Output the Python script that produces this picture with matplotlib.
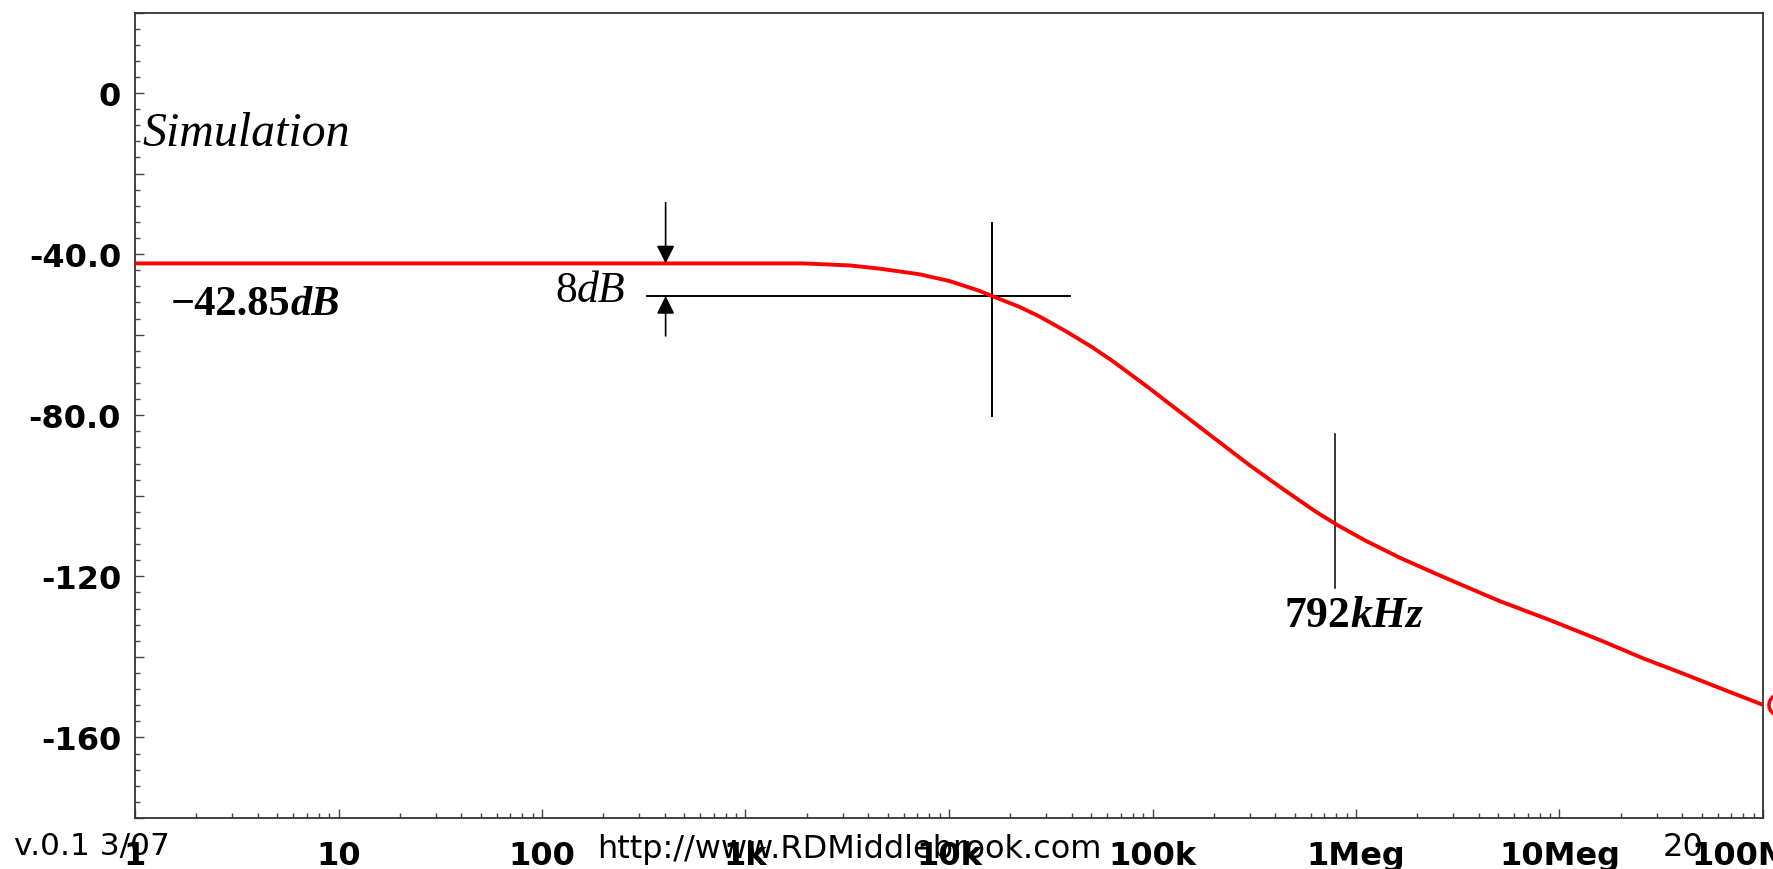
import matplotlib
matplotlib.use('Agg')
import matplotlib.pyplot as plt
from matplotlib.ticker import FixedLocator, FixedFormatter, MultipleLocator, LogLocator, NullFormatter
from matplotlib.patches import Ellipse
from matplotlib.transforms import ScaledTranslation

# ---------------- data ----------------
freq = [1, 10, 100, 1000, 1930, 3250, 4560, 7180, 10100, 14100, 16300, 22200,
        27900, 37700, 50900, 63900, 93100, 136000, 206000, 300000, 437000,
        637000, 813000, 1.12e6, 1.63e6, 2.38e6, 3.48e6, 5.06e6, 8.91e6,
        1.63e7, 2.56e7, 4.03e7, 6.32e7, 1e8]
mag_db = [-42.3, -42.3, -42.3, -42.3, -42.3, -42.8, -43.6, -45.0, -46.7, -49.1,
          -50.4, -53.1, -55.5, -59.2, -63.2, -66.6, -72.7, -79.1, -86.1, -92.4,
          -98.3, -104.0, -107.3, -111.2, -115.3, -119.0, -122.6, -126.1, -130.8,
          -136.1, -140.3, -144.1, -148.0, -151.9]

xtick_values = [1, 10, 100, 1e3, 1e4, 1e5, 1e6, 1e7, 1e8]
xtick_labels = ['1', '10', '100', '1k', '10k', '100k', '1Meg', '10Meg', '100M']
ytick_values = [20, 0, -20, -40, -60, -80, -100, -120, -140, -160, -180]
ytick_labels = ['', '0', '', '-40.0', '', '-80.0', '', '-120', '', '-160', '']

# annotation geometry (data units)
level_8db = -50.4
hline_freqs = [327, 39100]
cross_freq = 16330
cross_span = [-32.2, -80.1]
marker_freq = 792e3
marker_span = [-84.6, -123.0]
arrow_freq = 405
arrow_down = [-27.2, -42.3]
arrow_up = [-60.3, -50.4]

# ---------------- figure ----------------
W, H = 1774, 870
fig = plt.figure(figsize=(W / 100, H / 100), dpi=100)
ax = fig.add_axes([135 / W, 1 - 819 / H, (1763 - 135) / W, (819 - 13.5) / H])

def fx(px):
    return px / W

def fy(py):
    return 1 - py / H

ax.set_xscale('log')
ax.set_xlim(1, 1e8)
ax.set_ylim(-180, 20)

ax.plot(freq, mag_db, color='#ff0000', lw=2.8, solid_joinstyle='round',
        solid_capstyle='butt', zorder=3)

ax.plot(hline_freqs, [level_8db, level_8db], color='black', lw=1.4, zorder=2)
ax.plot([cross_freq, cross_freq], cross_span, color='black', lw=1.4, zorder=2)
ax.plot([marker_freq, marker_freq], marker_span, color='black', lw=1.1, zorder=2)

arrow_props = dict(arrowstyle='-|>', color='black', lw=1.2, mutation_scale=27,
                   shrinkA=0, shrinkB=0)
ax.annotate('', xy=(arrow_freq, arrow_down[1]), xytext=(arrow_freq, arrow_down[0]),
            arrowprops=arrow_props)
ax.annotate('', xy=(arrow_freq, arrow_up[1]), xytext=(arrow_freq, arrow_up[0]),
            arrowprops=arrow_props)

# ---------------- ticks ----------------
sans = 'DejaVu Sans'
ax.xaxis.set_major_locator(FixedLocator(xtick_values))
ax.xaxis.set_major_formatter(FixedFormatter(xtick_labels))
ax.xaxis.set_minor_locator(LogLocator(base=10, subs=range(2, 10), numticks=100))
ax.xaxis.set_minor_formatter(NullFormatter())
ax.yaxis.set_major_locator(FixedLocator(ytick_values))
ax.yaxis.set_major_formatter(FixedFormatter(ytick_labels))
ax.yaxis.set_minor_locator(MultipleLocator(4))

ax.tick_params(axis='both', which='both', direction='in', color='#444444', width=1.0)
ax.tick_params(axis='both', which='major', length=6.5)
ax.tick_params(axis='both', which='minor', length=3.5)
ax.tick_params(axis='x', which='major', pad=16)
ax.tick_params(axis='y', which='major', pad=10)
for lab in ax.get_xticklabels() + ax.get_yticklabels():
    lab.set_fontfamily(sans)
    lab.set_fontweight('bold')
    lab.set_fontsize(23)
    lab.set_color('black')
# last x label sits a little left of its tick in the reference
last = ax.get_xticklabels()[-1]
last.set_transform(last.get_transform() + ScaledTranslation(-0.22, 0, fig.dpi_scale_trans))

for s in ax.spines.values():
    s.set_color('#333333')
    s.set_linewidth(1.3)

# ---------------- texts ----------------
serif = 'Liberation Serif'

def rich(x_px, y_px, parts, size):
    prev = None
    for txt, weight, style in parts:
        if prev is None:
            prev = fig.text(fx(x_px), fy(y_px), txt, family=serif, weight=weight,
                            style=style, fontsize=size, ha='left', va='baseline')
        else:
            prev = ax.annotate(txt, xy=(1, 0), xycoords=prev, ha='left', va='bottom',
                               family=serif, weight=weight, style=style,
                               fontsize=size, annotation_clip=False)

rich(142, 146, [('Simulation', 'normal', 'italic')], 34.5)
rich(171, 315, [('\u221242.85', 'bold', 'normal'), ('dB', 'bold', 'italic')], 30.5)
rich(555, 302, [('8', 'normal', 'normal'), ('dB', 'normal', 'italic')], 31.5)
rich(1285, 627, [('792', 'bold', 'normal'), ('kHz', 'bold', 'italic')], 31.5)

fig.text(fx(14), fy(855), 'v.0.1 3/07', family=sans, fontsize=22.5, ha='left', va='baseline')
fig.text(fx(597), fy(858), 'http://www.RDMiddlebrook.com', family=sans, fontsize=23,
         ha='left', va='baseline')
fig.text(fx(1663), fy(856), '20', family=sans, fontsize=23, ha='left', va='baseline')

fig.add_artist(Ellipse((fx(1782), fy(706)), 26 / W, 23 / H, transform=fig.transFigure,
                       fill=False, edgecolor='#ff0000', lw=2.5))

fig.savefig('out.png', dpi=100)
